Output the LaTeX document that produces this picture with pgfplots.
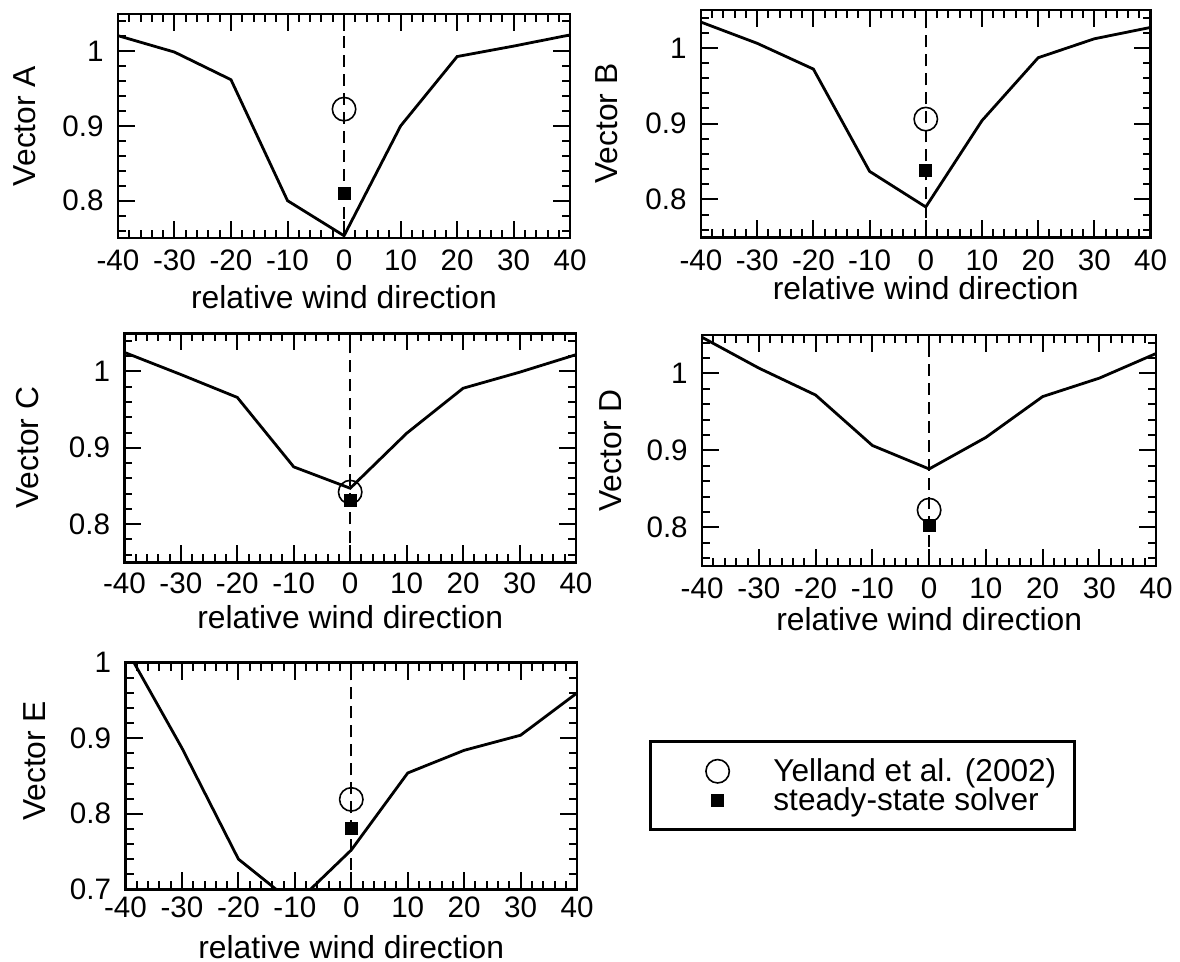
\documentclass[border=0pt]{standalone}
\usepackage{fontspec}
\setmainfont{Liberation Sans}
\usepackage{pgfplots}
\pgfplotsset{compat=1.18}
\usetikzlibrary{calc}

\pgfplotsset{
  panel/.style={
    scale only axis, anchor=south west,
    xmin=-40, xmax=40,
    xtick={-40,-30,-20,-10,0,10,20,30,40},
    xticklabels={-40,-30,-20,-10,0,10,20,30,40},
    minor x tick num=4,
    axis line style={line width=1.3pt},
    tick style={line width=1pt, black},
    major tick length=8.5pt, minor tick length=4pt,
    tick label style={font=\fontsize{14.8}{17}\selectfont},
    label style={font=\fontsize{15.9}{19}\selectfont},
    yticklabel style={anchor=east, inner sep=0pt, xshift=-7pt},
    xlabel={relative wind direction},
  },
  stdy/.style={ymin=0.75, ymax=1.05, ytick={0.8,0.9,1}, yticklabels={0.8,0.9,1},
    minor ytick={0.76,0.78,0.82,0.84,0.86,0.88,0.92,0.94,0.96,0.98,1.02,1.04}},
  yl/.style={ylabel style={at={($(axis description cs:0,0.5)+(-#1,0)$)}, anchor=center}},
  xl/.style={xlabel style={at={(axis description cs:0.5,#1)}, anchor=center}},
  xtl/.style={xticklabel style={anchor=center, inner sep=0pt, yshift=-#1}},
  curve/.style={black, line width=1.4pt, forget plot},
  vline/.style={black, line width=1pt, dash pattern=on 6pt off 3.5pt, forget plot},
  legimg/.style={legend image code/.code={\path[draw=none,fill=none] (-24.5pt,-7pt) rectangle (27.9pt,7.5pt); \draw[##1] plot coordinates {(0pt,0pt)};}},
  circ/.style={black, only marks, mark=o, mark size=5.85pt, line width=0.8pt, legimg},
  sq/.style={black, only marks, mark=square*, mark size=3pt, line width=0.5pt, legimg},
}

\begin{document}
\begin{tikzpicture}
\useasboundingbox (0,0) rectangle (590pt,481pt);

% Panel A
\begin{axis}[panel, stdy, at={(58.95pt,362pt)}, width=226.15pt, height=112pt,
  ylabel={Vector A}, yl=46.5pt, xl=-0.263, xtl=11pt]
\addplot[vline] coordinates {(0,0.75) (0,1.05)};
\addplot[curve] coordinates {(-40,1.021) (-30,0.999) (-20,0.962) (-10,0.800) (0,0.753) (10,0.900) (20,0.993) (30,1.007) (40,1.022)};
\addplot[circ] coordinates {(0,0.9226)};
\addplot[sq] coordinates {(0,0.810)};
\end{axis}

% Panel B
\begin{axis}[panel, stdy, at={(350.5pt,362.35pt)}, width=224.8pt, height=113.65pt,
  ylabel={Vector B}, yl=47pt, xl=-0.222, xtl=11.5pt]
\addplot[vline] coordinates {(0,0.75) (0,1.05)};
\addplot[curve] coordinates {(-40,1.034) (-30,1.006) (-20,0.972) (-10,0.837) (0,0.790) (10,0.904) (20,0.987) (30,1.012) (40,1.027)};
\addplot[circ] coordinates {(0,0.906)};
\addplot[sq] coordinates {(0,0.838)};
\end{axis}

% Panel C
\begin{axis}[panel, stdy, at={(62.2pt,199.85pt)}, width=225.8pt, height=114.5pt,
  ylabel={Vector C}, yl=48.5pt, xl=-0.240, xtl=10.5pt]
\addplot[vline] coordinates {(0,0.75) (0,1.05)};
\addplot[curve] coordinates {(-40,1.025) (-30,0.996) (-20,0.966) (-10,0.875) (0,0.847) (10,0.919) (20,0.978) (30,0.999) (40,1.022)};
\addplot[circ] coordinates {(0,0.842)};
\addplot[sq] coordinates {(0,0.831)};
\end{axis}

% Panel D
\begin{axis}[panel, stdy, at={(351.05pt,198pt)}, width=227.05pt, height=115.5pt,
  ylabel={Vector D}, yl=45.5pt, xl=-0.232, xtl=11pt]
\addplot[vline] coordinates {(0,0.75) (0,1.05)};
\addplot[curve] coordinates {(-40,1.047) (-30,1.007) (-20,0.972) (-10,0.9065) (0,0.876) (10,0.917) (20,0.970) (30,0.994) (40,1.026)};
\addplot[circ] coordinates {(0,0.8226)};
\addplot[sq] coordinates {(0,0.802)};
\end{axis}

% Panel E with legend
\begin{axis}[panel, at={(62.75pt,36.35pt)}, width=225.8pt, height=113.3pt,
  ymin=0.7, ymax=1.0, ytick={0.7,0.8,0.9,1}, yticklabels={0.7,0.8,0.9,1},
  minor ytick={0.72,0.74,0.76,0.78,0.82,0.84,0.86,0.88,0.92,0.94,0.96,0.98},
  ylabel={Vector E}, yl=45.5pt, xtl=9pt, xl=-0.254,
  legend cell align=left,
  legend style={at={(rel axis cs:1.160,0.659)}, anchor=north west, draw=black,
    line width=1.3pt, inner xsep=9pt, inner ysep=7.5pt, row sep=0pt, column sep=0pt,
    font=\fontsize{15.8}{18}\selectfont, nodes={inner sep=0pt}}]
\addplot[vline] coordinates {(0,0.7) (0,1.0)};
\addplot[curve] coordinates {(-40,1.02) (-30,0.887) (-20,0.74) (-10,0.68) (0,0.752) (10,0.854) (20,0.884) (30,0.904) (40,0.960)};
\addplot[circ] coordinates {(0,0.819)};
\addlegendentry{Yelland et al. (2002)}
\addplot[sq] coordinates {(0,0.780)};
\addlegendentry{steady-state solver}
\end{axis}
\end{tikzpicture}
\end{document}
